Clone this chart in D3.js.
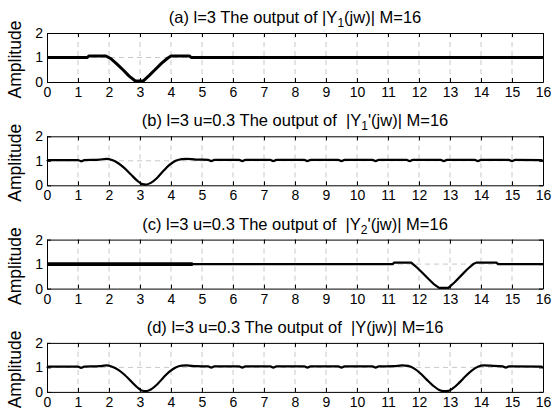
<!DOCTYPE html>
<html>
<head>
<meta charset="utf-8">
<script src="https://cdn.jsdelivr.net/npm/d3@7"></script>
<style>
  body { margin: 0; background: #fff; }
  svg { font-family: "Liberation Sans", Arial, sans-serif; }
  .grid line { stroke: #c8c8c8; stroke-dasharray: 5,4; stroke-width: 1; }
  .axis path, .axis line { stroke: #000; }
  .axis text { font-size: 14px; fill: #000; }
  .title { white-space: pre; }
</style>
</head>
<body>
<svg id="chart"></svg>
<script>
// x ticks and y ticks
let xTicks = d3.range(0, 17);
let yTicks = [0, 1, 2];

// (a) |Y1(jw)|
let aX = [0, 1.3, 1.35, 1.9, 2.05, 2.25, 2.45, 2.65, 2.85, 3.1, 3.3, 3.5, 3.7, 3.9, 4.0, 4.6, 4.65, 16];
let aY = [1, 1, 1.06, 1.06, 0.96, 0.74, 0.5, 0.24, 0.04, 0.04, 0.27, 0.52, 0.77, 0.98, 1.06, 1.06, 1, 1];

// (b) |Y1'(jw)|
let bX = [0, 0.05, 1.0, 1.1, 1.2, 1.7, 1.9, 2.1, 2.3, 2.5, 2.7, 2.9, 3.05, 3.2, 3.35, 3.55, 3.75, 3.95, 4.15, 4.35, 4.5, 4.8,
          5.2, 5.3, 5.4, 6.2, 6.3, 6.4, 7.2, 7.3, 7.4, 8.3, 8.4, 8.5, 9.4, 9.5, 9.6, 10.5, 10.6, 10.7,
          11.6, 11.7, 11.8, 12.7, 12.8, 12.9, 13.8, 13.9, 14.0, 14.9, 15.0, 15.1, 15.95, 16];
let bY = [0.98, 1.03, 1.03, 0.98, 1.03, 1.05, 1.08, 1.03, 0.9, 0.7, 0.45, 0.2, 0.06, 0.03, 0.1, 0.3, 0.58, 0.83, 1.0, 1.07, 1.08, 1.05,
          1.04, 0.99, 1.04, 1.04, 0.99, 1.04, 1.04, 0.99, 1.04, 1.04, 0.99, 1.04, 1.04, 0.99, 1.04, 1.04, 0.99, 1.04,
          1.04, 0.99, 1.04, 1.04, 0.99, 1.04, 1.04, 0.99, 1.04, 1.04, 0.99, 1.04, 1.03, 0.98];

// (c) |Y2'(jw)|
let cX = [0, 11.15, 11.2, 11.75, 11.9, 12.1, 12.3, 12.5, 12.65, 12.95, 13.15, 13.35, 13.55, 13.75, 13.85, 14.5, 14.55, 16];
let cY = [1, 1, 1.06, 1.06, 0.9, 0.66, 0.4, 0.16, 0.03, 0.03, 0.26, 0.52, 0.78, 1.0, 1.06, 1.06, 1, 1];
let cThickEnd = 4.7;

// (d) |Y(jw)|
let dX = [0, 0.05, 1.0, 1.1, 1.2, 1.7, 1.9, 2.1, 2.3, 2.5, 2.7, 2.9, 3.05, 3.2, 3.35, 3.55, 3.75, 3.95, 4.15, 4.35, 4.5, 4.8,
          5.2, 5.3, 5.4, 6.2, 6.3, 6.4, 7.2, 7.3, 7.4, 8.3, 8.4, 8.5, 9.4, 9.5, 9.6, 10.5, 10.6, 10.7,
          11.2, 11.45, 11.65, 11.85, 12.05, 12.25, 12.45, 12.65, 12.8, 12.95, 13.1, 13.3, 13.5, 13.7, 13.9, 14.1, 14.3,
          14.7, 14.8, 14.9, 15.95, 16];
let dY = [0.98, 1.03, 1.03, 0.98, 1.03, 1.05, 1.08, 1.03, 0.9, 0.7, 0.45, 0.2, 0.06, 0.03, 0.1, 0.3, 0.58, 0.83, 1.0, 1.07, 1.08, 1.05,
          1.04, 0.99, 1.04, 1.04, 0.99, 1.04, 1.04, 0.99, 1.04, 1.04, 0.99, 1.04, 1.04, 0.99, 1.04, 1.04, 0.99, 1.04,
          1.05, 1.08, 1.06, 0.95, 0.75, 0.5, 0.26, 0.08, 0.03, 0.04, 0.15, 0.38, 0.64, 0.87, 1.03, 1.08, 1.07,
          1.04, 0.99, 1.04, 1.03, 0.98];

let panels = [
  { label: "(a) l=3 The output of |Y", sub: "1", rest: "(jw)| M=16", xs: aX, ys: aY, width: 3, curve: d3.curveLinear },
  { label: "(b) l=3 u=0.3 The output of  |Y", sub: "1", rest: "'(jw)| M=16", xs: bX, ys: bY, width: 2.2, curve: d3.curveMonotoneX },
  { label: "(c) l=3 u=0.3 The output of  |Y", sub: "2", rest: "'(jw)| M=16", xs: cX, ys: cY, width: 2.2, curve: d3.curveLinear },
  { label: "(d) l=3 u=0.3 The output of  |Y(jw)| M=16", sub: "", rest: "", xs: dX, ys: dY, width: 2.2, curve: d3.curveMonotoneX }
];

let W = 553, H = 409;
let svg = d3.select("#chart").attr("width", W).attr("height", H);
let left = 47, right = 543, plotH = 49, firstTop = 33, step = 103.3;

let x = d3.scaleLinear().domain([0, 16]).range([left, right]);

panels.forEach(function(p, i) {
  let top = firstTop + i * step;
  let y = d3.scaleLinear().domain([0, 2]).range([top + plotH, top]);
  let g = svg.append("g");

  // grid
  let grid = g.append("g").attr("class", "grid");
  grid.selectAll("line.v").data(xTicks.slice(1, -1)).enter().append("line")
    .attr("x1", d => x(d)).attr("x2", d => x(d)).attr("y1", top).attr("y2", top + plotH);
  grid.selectAll("line.h").data(yTicks.slice(1, -1)).enter().append("line")
    .attr("x1", left).attr("x2", right).attr("y1", d => y(d)).attr("y2", d => y(d));

  // axes (ticks inward, box)
  g.append("g").attr("class", "axis").attr("transform", "translate(0," + (top + plotH) + ")")
    .call(d3.axisBottom(x).tickValues(xTicks).tickSize(-4).tickSizeOuter(0).tickPadding(5).tickFormat(d3.format("d")));
  g.append("g").attr("class", "axis").attr("transform", "translate(0," + top + ")")
    .call(d3.axisTop(x).tickValues(xTicks).tickSize(-4).tickSizeOuter(0).tickFormat(""));
  g.append("g").attr("class", "axis").attr("transform", "translate(" + left + ",0)")
    .call(d3.axisLeft(y).tickValues(yTicks).tickSize(-4).tickSizeOuter(0).tickPadding(4).tickFormat(d3.format("d")));
  g.append("g").attr("class", "axis").attr("transform", "translate(" + right + ",0)")
    .call(d3.axisRight(y).tickValues(yTicks).tickSize(-4).tickSizeOuter(0).tickFormat(""));
  g.selectAll(".axis path.domain").attr("stroke-width", 1);

  // data line
  let pts = p.xs.map((v, k) => ({ x: v, y: p.ys[k] }));
  let line = d3.line().x(d => x(d.x)).y(d => y(d.y)).curve(p.curve);
  g.append("path").datum(pts).attr("d", line)
    .attr("fill", "none").attr("stroke", "#000").attr("stroke-width", p.width).attr("stroke-linejoin", "round");
  if (i === 2) {
    g.append("path").datum(pts.filter(d => d.x <= cThickEnd).concat([{ x: cThickEnd, y: 1 }])).attr("d", line)
      .attr("fill", "none").attr("stroke", "#000").attr("stroke-width", 3.6);
  }

  // title
  let t = g.append("text").attr("class", "title").attr("x", (left + right) / 2).attr("y", top - 10)
    .attr("text-anchor", "middle").style("font-size", "16.5px").text(p.label);
  if (p.sub) {
    t.append("tspan").attr("dy", 4).style("font-size", "12px").text(p.sub);
    t.append("tspan").attr("dy", -4).text(p.rest);
  }

  // y label
  g.append("text").attr("transform", "translate(21," + (top + plotH / 2 + 2) + ") rotate(-90)")
    .attr("text-anchor", "middle").style("font-size", "17.5px").text("Amplitude");
});
</script>
</body>
</html>
